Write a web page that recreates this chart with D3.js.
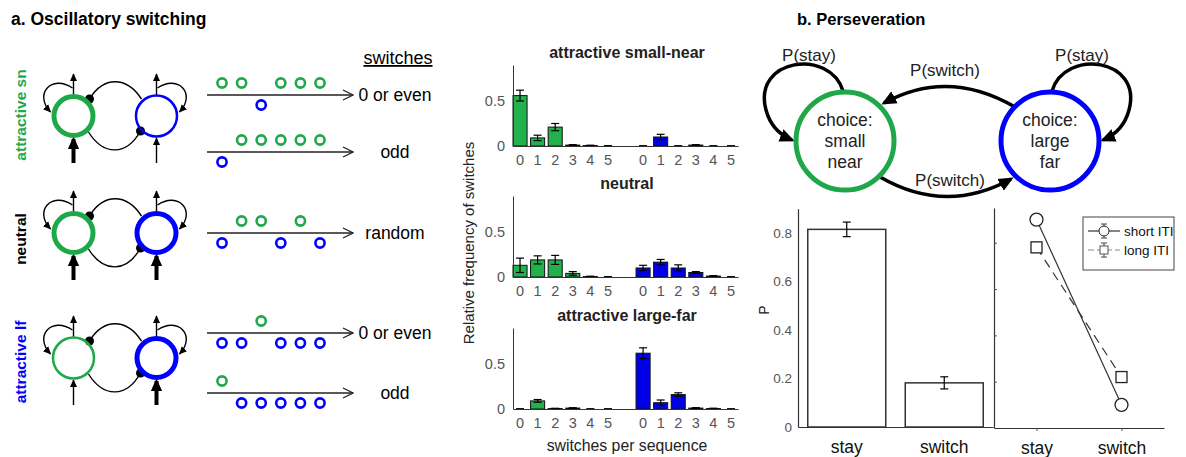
<!DOCTYPE html>
<html>
<head>
<meta charset="utf-8">
<script src="https://cdn.jsdelivr.net/npm/d3@7"></script>
<style>
body { margin: 0; background: #fff; }
svg { font-family: "Liberation Sans", Arial, sans-serif; }
</style>
</head>
<body>
<svg id="fig" width="1186" height="457"></svg>
<script>
// ---- data ----
const modelRows = ['attractive sn', 'neutral', 'attractive lf'];
// choice sequences: 0 = small-near (green), 1 = large-far (blue)
const sequences = [[0, 0, 1, 0, 0, 0], [1, 0, 0, 0, 0, 0], [1, 0, 0, 1, 0, 1], [1, 1, 0, 1, 1, 1], [0, 1, 1, 1, 1, 1]];
const seqOutcomes = ['0 or even', 'odd', 'random', '0 or even', 'odd'];

const switchCounts = ['0', '1', '2', '3', '4', '5'];
const panelTitles = ['attractive small-near', 'neutral', 'attractive large-far'];
const snGreen = [0.56, 0.09, 0.21, 0.01, 0.005, 0];
const snGreenErr = [0.06, 0.03, 0.04, 0.005, 0.004, 0.004];
const snBlue = [0, 0.10, 0, 0.01, 0, 0];
const snBlueErr = [0.003, 0.03, 0.003, 0.005, 0.003, 0.003];
const neuGreen = [0.13, 0.19, 0.19, 0.04, 0.005, 0];
const neuGreenErr = [0.08, 0.045, 0.05, 0.02, 0.004, 0.004];
const neuBlue = [0.10, 0.165, 0.10, 0.05, 0.01, 0];
const neuBlueErr = [0.03, 0.03, 0.035, 0.01, 0.005, 0.004];
const lfGreen = [0, 0.09, 0.005, 0.01, 0, 0];
const lfGreenErr = [0.003, 0.015, 0.003, 0.004, 0.003, 0.003];
const lfBlue = [0.62, 0.07, 0.16, 0.01, 0.005, 0];
const lfBlueErr = [0.06, 0.03, 0.02, 0.005, 0.004, 0.003];

const persCats = ['stay', 'switch'];
const persMean = [0.815, 0.182];
const persErr = [0.03, 0.025];
const itiLabels = ['short ITI', 'long ITI'];
const shortITI = [0.90, 0.10];
const longITI = [0.78, 0.22];

// ---- styling ----
const green = '#1fa84a';
const greenBar = '#22b14c';
const blue = '#0000ff';
const blueBar = '#0000e8';
const tickGrey = '#555';
const fontFam = '"Liberation Sans", Arial, sans-serif';

const svg = d3.select('#fig');
const defs = svg.append('defs');

function arrowMarker (id, size, refX) {
    defs.append('marker')
        .attr('id', id)
        .attr('viewBox', '0 0 10 10')
        .attr('refX', refX)
        .attr('refY', 5)
        .attr('markerWidth', size)
        .attr('markerHeight', size)
        .attr('markerUnits', 'userSpaceOnUse')
        .attr('orient', 'auto')
        .append('path')
        .attr('d', 'M0,0.5 L10,5 L0,9.5 z')
        .attr('fill', '#000');
}
arrowMarker('arrS', 8, 9);
arrowMarker('arrL', 13, 8);
arrowMarker('arrB', 15, 8);

defs.append('marker')
    .attr('id', 'chev')
    .attr('viewBox', '0 0 12 12')
    .attr('refX', 11)
    .attr('refY', 6)
    .attr('markerWidth', 12)
    .attr('markerHeight', 12)
    .attr('markerUnits', 'userSpaceOnUse')
    .attr('orient', 'auto')
    .append('path')
    .attr('d', 'M1,1 L11,6 L1,11')
    .attr('fill', 'none')
    .attr('stroke', '#222')
    .attr('stroke-width', 1.3);

// ================= PANEL A =================
svg.append('text')
    .attr('x', 11).attr('y', 25)
    .attr('font-size', 17.5).attr('font-weight', 'bold')
    .text('a. Oscillatory switching');

// NETWORK SCHEMATICS
const gx = 73.5, bx = 156.5;
const rowY = [116, 233, 358];
const rowLabelY = [115, 239, 362];
const rowLabelCol = [green, '#000', blue];
const rowThick = [[true, false], [true, true], [false, true]];

rowY.forEach((cy, i) => {
    const g = svg.append('g');
    g.append('text')
        .attr('transform', `translate(26 ${rowLabelY[i]}) rotate(-90)`)
        .attr('text-anchor', 'middle')
        .attr('font-size', 15.5).attr('font-weight', 'bold')
        .attr('fill', rowLabelCol[i])
        .text(modelRows[i]);

    // mutual inhibition arcs
    g.append('path')
        .attr('d', `M${gx + 16},${cy - 17} C${gx + 30},${cy - 40} ${bx - 30},${cy - 40} ${bx - 15},${cy - 17}`)
        .attr('fill', 'none').attr('stroke', '#000').attr('stroke-width', 1.4);
    g.append('path')
        .attr('d', `M${gx + 15},${cy + 16} C${gx + 30},${cy + 40} ${bx - 30},${cy + 40} ${bx - 16},${cy + 15}`)
        .attr('fill', 'none').attr('stroke', '#000').attr('stroke-width', 1.4);
    g.append('circle').attr('cx', gx + 16).attr('cy', cy - 17).attr('r', 4.5);
    g.append('circle').attr('cx', bx - 16).attr('cy', cy + 15).attr('r', 4.5);

    [[gx, green, rowThick[i][0], -1], [bx, blue, rowThick[i][1], 1]].forEach(([x, col, thick, side]) => {
        // output
        g.append('line')
            .attr('x1', x).attr('y1', cy - 21).attr('x2', x).attr('y2', cy - 42)
            .attr('stroke', '#000').attr('stroke-width', 1.4)
            .attr('marker-end', 'url(#arrS)');
        // self excitation
        g.append('path')
            .attr('d', `M${x + side},${cy - 28} C${x + side * 22},${cy - 42} ${x + side * 40},${cy - 22} ${x + side * 23},${cy - 4}`)
            .attr('fill', 'none').attr('stroke', '#000').attr('stroke-width', 1.4)
            .attr('marker-end', 'url(#arrS)');
        // input
        g.append('line')
            .attr('x1', x).attr('y1', cy + 47).attr('x2', x).attr('y2', cy + (thick ? 23 : 22))
            .attr('stroke', '#000').attr('stroke-width', thick ? 4 : 1.4)
            .attr('marker-end', thick ? 'url(#arrL)' : 'url(#arrS)');
        g.append('circle')
            .attr('cx', x).attr('cy', cy)
            .attr('r', thick ? 19.5 : 20.5)
            .attr('fill', 'none')
            .attr('stroke', col)
            .attr('stroke-width', thick ? 5 : 2.5);
    });
});

// CHOICE SEQUENCES
svg.append('text')
    .attr('x', 398).attr('y', 64)
    .attr('text-anchor', 'middle').attr('font-size', 18)
    .attr('text-decoration', 'underline')
    .text('switches');

const seqLineY = [95, 152, 233, 333, 393];
const slotX = d3.scalePoint().domain(d3.range(6)).range([222, 320]);

sequences.forEach((seq, i) => {
    const y = seqLineY[i];
    const g = svg.append('g');
    g.append('line')
        .attr('x1', 207).attr('x2', 353).attr('y1', y).attr('y2', y)
        .attr('stroke', '#222').attr('stroke-width', 1.3)
        .attr('marker-end', 'url(#chev)');
    g.selectAll('circle')
        .data(seq)
        .join('circle')
        .attr('cx', (d, j) => slotX(j))
        .attr('cy', d => d ? y + 10 : y - 12)
        .attr('r', 4.6)
        .attr('fill', '#fff')
        .attr('stroke', d => d ? blue : green)
        .attr('stroke-width', 2.6);
    g.append('text')
        .attr('x', 395).attr('y', y + 6)
        .attr('text-anchor', 'middle').attr('font-size', 17.5)
        .text(seqOutcomes[i]);
});

// SWITCH FREQUENCY BARS
const slotKeys = switchCounts.map(c => 'g' + c).concat(['gap'], switchCounts.map(c => 'b' + c));
const bx0 = 513, bx1 = 738;
const xBar = d3.scaleBand().domain(slotKeys).range([bx0, bx1]).paddingInner(0.2).paddingOuter(0);

const freqPanels = [
    { title: panelTitles[0], zero: 146, green: snGreen, greenErr: snGreenErr, blue: snBlue, blueErr: snBlueErr },
    { title: panelTitles[1], zero: 277, green: neuGreen, greenErr: neuGreenErr, blue: neuBlue, blueErr: neuBlueErr },
    { title: panelTitles[2], zero: 409, green: lfGreen, greenErr: lfGreenErr, blue: lfBlue, blueErr: lfBlueErr }
];

freqPanels.forEach((p) => {
    const y = d3.scaleLinear().domain([0, 0.9]).range([p.zero, p.zero - 81]);
    const g = svg.append('g');
    const bars = switchCounts.map((c, i) => ({ key: 'g' + c, v: p.green[i], e: p.greenErr[i], col: greenBar }))
        .concat(switchCounts.map((c, i) => ({ key: 'b' + c, v: p.blue[i], e: p.blueErr[i], col: blueBar })));

    g.append('text')
        .attr('x', 627).attr('y', p.zero - 88)
        .attr('text-anchor', 'middle')
        .attr('font-size', 16).attr('font-weight', 'bold')
        .attr('fill', '#222')
        .text(p.title);

    g.selectAll('rect')
        .data(bars)
        .join('rect')
        .attr('x', d => xBar(d.key))
        .attr('width', xBar.bandwidth())
        .attr('y', d => y(d.v))
        .attr('height', d => y(0) - y(d.v))
        .attr('fill', d => d.col)
        .attr('stroke', '#111')
        .attr('stroke-width', 1);

    const eb = g.selectAll('.eb').data(bars).join('g').attr('class', 'eb')
        .attr('transform', d => `translate(${xBar(d.key) + xBar.bandwidth() / 2} 0)`)
        .attr('stroke', '#000').attr('stroke-width', 1.2);
    eb.append('line').attr('y1', d => y(d.v - d.e)).attr('y2', d => y(d.v + d.e));
    eb.append('line').attr('x1', -4).attr('x2', 4).attr('y1', d => y(d.v + d.e)).attr('y2', d => y(d.v + d.e));
    eb.append('line').attr('x1', -4).attr('x2', 4).attr('y1', d => y(d.v - d.e)).attr('y2', d => y(d.v - d.e));

    const ya = g.append('g')
        .attr('transform', `translate(${bx0} 0)`)
        .call(d3.axisLeft(y).tickValues([0, 0.5]).tickSize(0).tickPadding(8).tickFormat(d3.format('')));
    const xa = g.append('g')
        .attr('transform', `translate(0 ${p.zero})`)
        .call(d3.axisBottom(xBar).tickSize(0).tickPadding(9).tickFormat(k => k === 'gap' ? '' : k.slice(1)));
    [ya, xa].forEach(a => {
        a.select('.domain').attr('stroke', '#333');
        a.selectAll('text').attr('font-size', 14.5).attr('fill', tickGrey)
            .attr('font-family', fontFam);
    });
});

svg.append('text')
    .attr('transform', 'translate(474 243) rotate(-90)')
    .attr('text-anchor', 'middle').attr('font-size', 15).attr('fill', '#222')
    .text('Relative frequency of switches');
svg.append('text')
    .attr('x', 627).attr('y', 451)
    .attr('text-anchor', 'middle').attr('font-size', 15.8).attr('fill', '#222')
    .text('switches per sequence');

// ================= PANEL B =================
svg.append('text')
    .attr('x', 797).attr('y', 25)
    .attr('font-size', 16.5).attr('font-weight', 'bold')
    .text('b. Perseveration');

// STATE DIAGRAM
const sn = { x: 845, y: 141 }, lf = { x: 1050, y: 141 };
const diag = svg.append('g');
const arrowPaths = [
    `M1015,107 Q948,68 884,103`,
    `M880,177 Q946,215 1011,179`,
    `M843,91 C830,48 752,58 766,110 C770,125 780,135 792,140`,
    `M1052,91 C1065,48 1143,58 1129,110 C1125,125 1115,135 1103,140`
];
diag.selectAll('path')
    .data(arrowPaths)
    .join('path')
    .attr('d', d => d)
    .attr('fill', 'none')
    .attr('stroke', '#000')
    .attr('stroke-width', 3.5)
    .attr('marker-end', 'url(#arrB)');

[[sn, green, ['choice:', 'small', 'near']], [lf, blue, ['choice:', 'large', 'far']]].forEach(([c, col, lines]) => {
    diag.append('circle')
        .attr('cx', c.x).attr('cy', c.y).attr('r', 49)
        .attr('fill', 'none').attr('stroke', col).attr('stroke-width', 5);
    diag.append('text')
        .attr('x', c.x).attr('y', c.y - 15)
        .attr('text-anchor', 'middle').attr('font-size', 17.5).attr('fill', '#222')
        .selectAll('tspan').data(lines).join('tspan')
        .attr('x', c.x).attr('dy', (d, i) => i ? 21 : 0)
        .text(d => d);
});
[['P(stay)', 809, 61], ['P(stay)', 1082, 61], ['P(switch)', 945, 76], ['P(switch)', 950, 186]].forEach(([t, x, y]) => {
    diag.append('text')
        .attr('x', x).attr('y', y)
        .attr('text-anchor', 'middle').attr('font-size', 17).attr('fill', '#222')
        .text(t);
});

// P(stay) / P(switch) BARS
const yP = d3.scaleLinear().domain([0, 0.9]).range([427, 208.75]);
const xP = d3.scaleBand().domain(persCats).range([798, 993]).paddingInner(0.2).paddingOuter(0.1);
const pb = svg.append('g');
pb.selectAll('rect')
    .data(persCats)
    .join('rect')
    .attr('x', d => xP(d))
    .attr('width', xP.bandwidth())
    .attr('y', (d, i) => yP(persMean[i]))
    .attr('height', (d, i) => yP(0) - yP(persMean[i]))
    .attr('fill', '#fff').attr('stroke', '#333').attr('stroke-width', 1.5);
const peb = pb.selectAll('.eb').data(persCats).join('g').attr('class', 'eb')
    .attr('transform', d => `translate(${xP(d) + xP.bandwidth() / 2} 0)`)
    .attr('stroke', '#000').attr('stroke-width', 1.2);
peb.append('line').attr('y1', (d, i) => yP(persMean[i] - persErr[i])).attr('y2', (d, i) => yP(persMean[i] + persErr[i]));
[1, -1].forEach(s => {
    peb.append('line').attr('x1', -4).attr('x2', 4)
        .attr('y1', (d, i) => yP(persMean[i] + s * persErr[i]))
        .attr('y2', (d, i) => yP(persMean[i] + s * persErr[i]));
});
const pya = pb.append('g').attr('transform', 'translate(798 0)')
    .call(d3.axisLeft(yP).tickValues([0, 0.2, 0.4, 0.6, 0.8]).tickSize(0).tickPadding(6).tickFormat(d3.format('')));
const pxa = pb.append('g').attr('transform', 'translate(0 427)')
    .call(d3.axisBottom(xP).tickSize(0).tickPadding(14).tickSizeOuter(0));
pya.selectAll('text').attr('font-size', 13.5).attr('fill', tickGrey);
pxa.selectAll('text').attr('font-size', 17.5).attr('fill', '#111');
[pya, pxa].forEach(a => {
    a.select('.domain').attr('stroke', '#333').attr('stroke-width', 1.2);
    a.selectAll('text').attr('font-family', fontFam);
});
svg.append('text')
    .attr('transform', 'translate(769 310) rotate(-90)')
    .attr('text-anchor', 'middle').attr('font-size', 14).attr('fill', '#222')
    .text('P');

// SHORT vs LONG ITI
const xI = d3.scaleLinear().domain([0.5, 2.5]).range([994, 1164]);
const yI = d3.scaleLinear().domain([0, 0.95]).range([428, 208]);
const ig = svg.append('g');
const iya = ig.append('g').attr('transform', 'translate(994 0)')
    .call(d3.axisRight(yI).tickValues([0.2, 0.4, 0.6, 0.8]).tickSize(3).tickSizeOuter(0).tickFormat(''));
const ixa = ig.append('g').attr('transform', 'translate(0 428)')
    .call(d3.axisBottom(xI).tickValues([1, 2]).tickSize(3).tickSizeOuter(0).tickPadding(11)
        .tickFormat(d => persCats[d - 1]));
[iya, ixa].forEach(a => {
    a.selectAll('line').attr('stroke', '#555');
    a.select('.domain').attr('stroke', '#333').attr('stroke-width', 1.2);
});
ixa.selectAll('text').attr('font-size', 17.5).attr('fill', '#111')
    .attr('font-family', fontFam);

const line = d3.line().x((d, i) => xI(i + 1)).y(d => yI(d));
ig.append('path').datum(longITI).attr('d', line)
    .attr('fill', 'none').attr('stroke', '#333').attr('stroke-width', 1.2).attr('stroke-dasharray', '9,6');
ig.append('path').datum(shortITI).attr('d', line)
    .attr('fill', 'none').attr('stroke', '#333').attr('stroke-width', 1.2);
ig.selectAll('.sq').data(longITI).join('rect').attr('class', 'sq')
    .attr('x', (d, i) => xI(i + 1) - 5.5).attr('y', d => yI(d) - 5.5)
    .attr('width', 11).attr('height', 11)
    .attr('fill', '#fff').attr('stroke', '#222').attr('stroke-width', 1.3);
ig.selectAll('.ci').data(shortITI).join('circle').attr('class', 'ci')
    .attr('cx', (d, i) => xI(i + 1)).attr('cy', d => yI(d)).attr('r', 6.5)
    .attr('fill', '#fff').attr('stroke', '#222').attr('stroke-width', 1.3);

// LEGEND
const lg = svg.append('g').attr('transform', 'translate(1083 217)');
lg.append('rect').attr('width', 91).attr('height', 53)
    .attr('fill', '#fff').attr('stroke', '#444').attr('stroke-width', 1);
itiLabels.forEach((t, i) => {
    const yy = 14 + i * 19;
    const e = lg.append('g').attr('transform', `translate(0 ${yy})`);
    e.append('line').attr('x1', 5).attr('x2', 37)
        .attr('stroke', i ? '#888' : '#222').attr('stroke-width', 1.1)
        .attr('stroke-dasharray', i ? '6,3' : null);
    e.append('line').attr('x1', 21).attr('x2', 21).attr('y1', -7).attr('y2', 7).attr('stroke', '#444');
    e.append('line').attr('x1', 18).attr('x2', 24).attr('y1', -7).attr('y2', -7).attr('stroke', '#444');
    e.append('line').attr('x1', 18).attr('x2', 24).attr('y1', 7).attr('y2', 7).attr('stroke', '#444');
    if (i) {
        e.append('rect').attr('x', 17).attr('y', -4).attr('width', 8).attr('height', 8)
            .attr('fill', '#fff').attr('stroke', '#555');
    } else {
        e.append('circle').attr('cx', 21).attr('r', 5).attr('fill', '#fff').attr('stroke', '#222');
    }
    e.append('text').attr('x', 41).attr('y', 5)
        .attr('font-size', 13.5).attr('fill', '#111')
        .text(t);
});
</script>
</body>
</html>
